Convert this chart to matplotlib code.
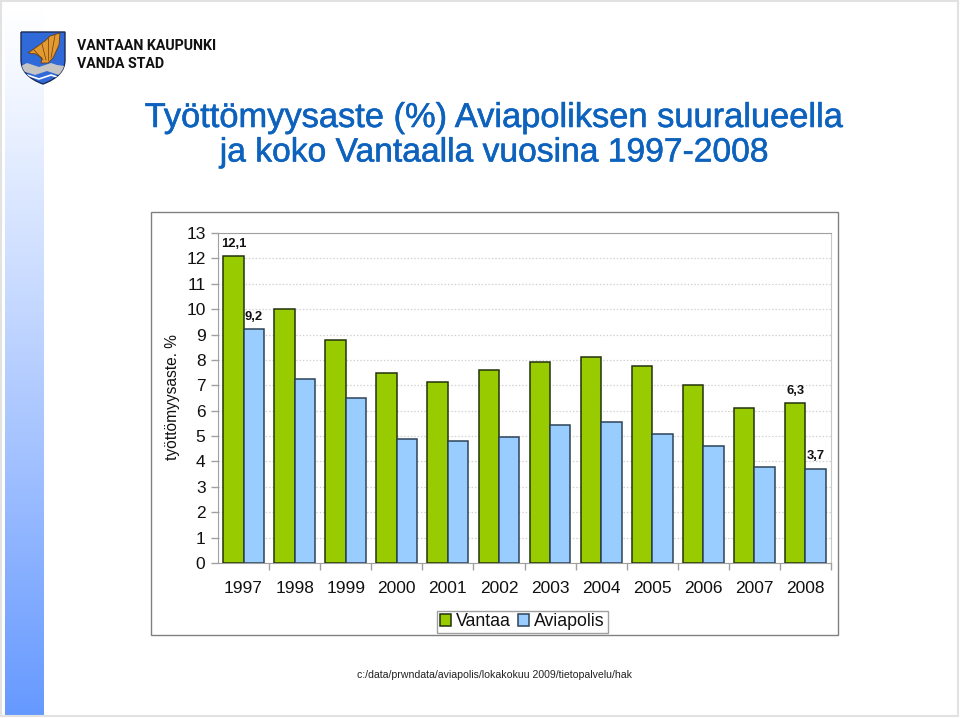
import numpy as np
import matplotlib
matplotlib.use("Agg")
import matplotlib.pyplot as plt
import matplotlib.patheffects as pe
from matplotlib.patches import Polygon, Rectangle, PathPatch
from matplotlib.path import Path

W, H = 960, 718
years = ["1997", "1998", "1999", "2000", "2001", "2002", "2003", "2004", "2005", "2006", "2007", "2008"]
vantaa = [12.1, 10.0, 8.8, 7.5, 7.15, 7.6, 7.9, 8.1, 7.75, 7.0, 6.1, 6.3]
aviapolis = [9.2, 7.25, 6.5, 4.9, 4.8, 4.95, 5.45, 5.55, 5.1, 4.6, 3.8, 3.7]
labelled = {0: ("12,1", "9,2"), 11: ("6,3", "3,7")}
title_lines = ["Työttömyysaste (%) Aviapoliksen suuralueella", "ja koko Vantaalla vuosina 1997-2008"]
footer = "c:/data/prwndata/aviapolis/lokakokuu 2009/tietopalvelu/hak"

plt.rcParams['font.family'] = ['Liberation Sans', 'DejaVu Sans']
fig = plt.figure(figsize=(W / 100, H / 100), dpi=100, facecolor='white')

# page layer in pixel coordinates
bg = fig.add_axes([0, 0, 1, 1])
bg.set_xlim(0, W); bg.set_ylim(H, 0); bg.axis('off')
grad = np.linspace(0, 1, 256)[:, None] ** 1.1
c0 = np.array([1.0, 1.0, 1.0]); c1 = np.array([0.40, 0.60, 1.0])
img = c0 + (c1 - c0) * grad[:, :, None]
bg.imshow(img, extent=(5, 44, 716, 10), aspect='auto', zorder=1)
bg.set_xlim(0, W); bg.set_ylim(H, 0)
bg.add_patch(Rectangle((1, 1), 957, 715, fill=False, ec='#e2e2e2', lw=1.5, zorder=2))

# logo
M, Ln, C = Path.MOVETO, Path.LINETO, Path.CURVE3
shield = Path([(21, 32), (65, 32), (65, 60), (65, 76), (43, 84), (21, 76), (21, 60), (21, 32)],
              [M, Ln, Ln, C, C, C, C, Ln])
sp = PathPatch(shield, fc='#2f6ad8', ec='#1a2a55', lw=1, zorder=3)
bg.add_patch(sp)
top = [(21, 66), (27, 63), (33, 65), (39, 67), (45, 65), (51, 63), (57, 65), (65, 66)]
bot = [(65, 73), (59, 75), (53, 73), (47, 71), (41, 73), (35, 75), (29, 73), (21, 71)]
band = Polygon(top + bot, fc='#c4c4c4', ec='none', zorder=4)
bg.add_patch(band); band.set_clip_path(sp)
w2 = bg.plot([21, 27, 33, 39, 45, 51, 57, 65], [77, 75, 77, 79, 77, 75, 77, 79], color='white', lw=1.2, zorder=4)[0]
w2.set_clip_path(sp)
bg.add_patch(Polygon([(28, 53), (38, 46), (46, 40), (50, 36), (60, 33), (59, 45), (53, 58), (48, 63), (41, 63), (42, 58), (36, 54)],
                     fc='#e39a30', ec='#6a3c10', lw=0.6, zorder=4))
for xa, ya, xb, yb in [(43, 60, 34, 50), (46, 60, 42, 44), (48, 60, 48, 38), (51, 58, 55, 35)]:
    bg.plot([xa, xb], [ya, yb], color='#6a3c10', lw=0.5, zorder=5)
for y, t in zip((45.5, 64), ("VANTAAN KAUPUNKI", "VANDA STAD")):
    bg.text(77, y, t, fontsize=10.2, fontweight='bold', color='#111111',
            family='Roboto', va='center', ha='left', zorder=5)

for y, t, fs in zip((118.5, 153), title_lines, (24.8, 24.2)):
    bg.text(494.5, y, t, fontsize=fs, color='#0d62bd', ha='center', va='center', zorder=5,
            path_effects=[pe.withStroke(linewidth=0.4, foreground='#0d62bd')])

# chart frame
bg.add_patch(Rectangle((151, 212), 687, 423, fc='white', ec='#808080', lw=1.0, zorder=3))
bg.text(172, 397.5, "työttömyysaste. %", rotation=90, fontsize=11.2, ha='center', va='center', color='#111111', zorder=5)
bg.text(494.5, 675, footer, fontsize=7.6, ha='center', va='center', color='#222222', zorder=5)

# chart
L, R, T, B = 218, 831, 233, 563
ax = fig.add_axes([L / W, 1 - B / H, (R - L) / W, (B - T) / H], zorder=5)
ax.patch.set_alpha(0)
x = np.arange(len(years))
w = 0.4
bv = ax.bar(x - w / 2, vantaa, w, color='#99cc00', ec='#23330c', lw=1.1, label='Vantaa', zorder=3)
ba = ax.bar(x + w / 2, aviapolis, w, color='#99ccff', ec='#2c4258', lw=1.1, label='Aviapolis', zorder=3)
ax.set_xlim(-0.5, 11.5); ax.set_ylim(0, 13)
ax.set_yticks(range(14))
ax.set_xticks(x + 0.5, minor=True)
ax.set_xticks(x, years)
ax.tick_params(axis='x', which='major', length=0, pad=13, labelsize=12.5, labelcolor='#111111')
ax.tick_params(axis='x', which='minor', length=5, color='#a0a0a0', width=1)
ax.tick_params(axis='y', length=5, color='#a0a0a0', width=1, pad=4, labelsize=12.5, labelcolor='#111111')
ax.grid(axis='y', ls=(0, (1.2, 1.5)), color='#d2d2d2', lw=0.9, zorder=0)
ax.spines['top'].set_color('#a0a0a0')
ax.spines['right'].set_color('#c8c8c8')
ax.spines['left'].set_color('#a0a0a0')
ax.spines['bottom'].set_color('#a0a0a0')
for i, (a, b) in labelled.items():
    ax.annotate(a, (x[i] - w / 2, vantaa[i]), xytext=(0, 6.5), textcoords='offset points', ha='center',
                fontsize=9.4, fontweight='bold', color='#111111')
    ax.annotate(b, (x[i] + w / 2, aviapolis[i]), xytext=(0, 7), textcoords='offset points', ha='center',
                fontsize=9.4, fontweight='bold', color='#111111')

leg = ax.legend(handles=[bv, ba], ncol=2, loc='center', bbox_to_anchor=((522.5 - L) / (R - L), (B - 622) / (B - T)),
                fontsize=12.8, frameon=True, fancybox=False, edgecolor='#a0a0a0', framealpha=1,
                handlelength=0.62, handleheight=0.62, handletextpad=0.28, columnspacing=0.4,
                borderpad=0.16, labelcolor='#111111', borderaxespad=0)
leg.get_frame().set_linewidth(1)

fig.savefig('out.png', dpi=100)
